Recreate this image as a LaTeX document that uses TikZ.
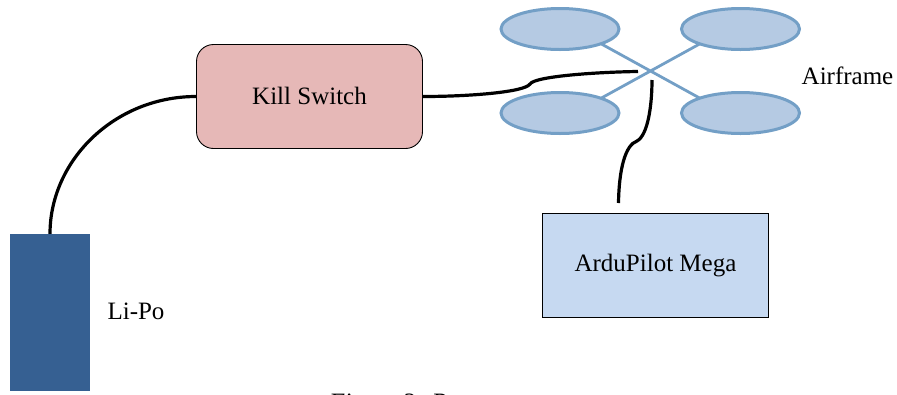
\documentclass[tikz,border=0pt]{standalone}
\usepackage{fontspec}
\setmainfont{Liberation Serif}
\usetikzlibrary{shapes.geometric}
\definecolor{lipo}{HTML}{366092}
\definecolor{killfill}{HTML}{E6B8B7}
\definecolor{apmfill}{HTML}{C6D9F1}
\definecolor{rotorfill}{HTML}{B5CAE3}
\definecolor{armcol}{HTML}{739FC6}
\tikzset{
  lbl/.style={font=\fontsize{25}{28}\selectfont,inner sep=0pt,text=black},
  rotor/.style={ellipse,draw=armcol,line width=3pt,fill=rotorfill,minimum width=118pt,minimum height=41pt,inner sep=0pt},
  arm/.style={draw=armcol,line width=2.8pt},
  wire/.style={draw=black,line width=3.2pt},
  boxline/.style={draw=black,line width=0.9pt}
}
\begin{document}
\begin{tikzpicture}[x=1pt,y=-1pt]
\useasboundingbox (0,0) rectangle (897,394);
\coordinate (a1) at (596,41);
\coordinate (a2) at (705,41);
\coordinate (a3) at (596,101);
\coordinate (a4) at (705,101);
\path[arm] (a1) -- (a4);
\path[arm] (a2) -- (a3);
\node[rotor] (r1) at (560,29) {};
\node[rotor] (r2) at (740.5,29) {};
\node[rotor] (r3) at (560,113) {};
\node[rotor] (r4) at (740.5,113) {};
\node[lbl] (air) at (847.5,75.5) {Airframe};
\node[boxline,fill=killfill,rounded corners=17pt,minimum width=226pt,minimum height=104pt,inner sep=0pt] (kill) at (309.5,96.5) {};
\node[lbl] (killtext) at (309.5,96) {Kill Switch};
\node[boxline,fill=apmfill,minimum width=226pt,minimum height=104pt,inner sep=0pt] (apm) at (655.5,265.5) {};
\node[lbl] (apmtext) at (655.5,266) {ArduPilot Mega};
\node[fill=lipo,minimum width=80pt,minimum height=157pt,inner sep=0pt] (batt) at (50,312.5) {};
\node[lbl] (batttext) at (136,311) {Li-Po};
\coordinate (e1) at (638,71.5);
\coordinate (e2) at (652,80);
\coordinate (e3) at (618.5,203);
\path[wire] (batt.north) .. controls (50,160) and (115,96.5) .. (kill.west);
\path[wire] (kill.east) .. controls (470,96.5) and (525,92) .. (530,84) .. controls (535,76) and (600,72) .. (e1);
\path[wire] (e2) .. controls (652,105) and (648,135) .. (637,141) .. controls (625,145) and (619,170) .. (e3);
\node[font=\fontsize{25}{28}\itshape\selectfont,inner sep=0pt,anchor=base west] (cap) at (329,410) {Figure 3: Power};
\end{tikzpicture}
\end{document}
